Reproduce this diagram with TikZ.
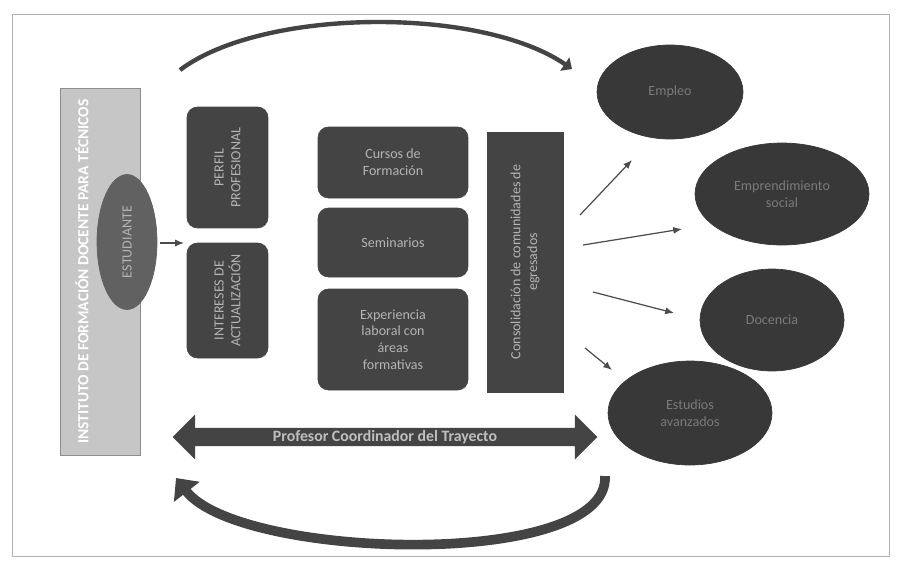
\documentclass[tikz,border=0pt]{standalone}
\usepackage{fontspec}
\setmainfont{Carlito}
\usetikzlibrary{positioning, calc, shapes.geometric, shapes.arrows, arrows.meta}
\definecolor{boxgray}{HTML}{444444}
\definecolor{ovalgray}{HTML}{383838}
\definecolor{bargray}{HTML}{C6C6C6}
\definecolor{barline}{HTML}{8C8C8C}
\definecolor{txtgray}{HTML}{B4B4B4}
\definecolor{ovaltxt}{HTML}{7A7A7A}

\begin{document}
\begin{tikzpicture}[x=0.02cm, y=-0.02cm,
	box/.style={draw=boxgray, fill=boxgray, rounded corners=6pt, text=txtgray, align=center, font=\footnotesize},
	outc/.style={ellipse, draw=ovalgray, fill=ovalgray, text=ovaltxt, align=center, font=\footnotesize, inner sep=0pt},
	tip/.style={-{Latex[length=5pt, width=4pt]}, black!70, line width=0.7pt}]
			\useasboundingbox (0,0) rectangle (901,562);
			\draw [gray!60] (12,14) rectangle (889,556);
			
			\node (n1) [draw=barline, fill=bargray, rotate=90, minimum width=7.34cm, minimum height=1.6cm] at (100,271.5) {};
			\node (t1) [rotate=90, text=white, font=\fontsize{8.8}{10}\selectfont\bfseries] at (82,271.5) {INSTITUTO DE FORMACIÓN DOCENTE PARA TÉCNICOS};
			\node (n2) [ellipse, draw=black!62, fill=black!62, rotate=90, minimum width=2.7cm, minimum height=1.2cm, text=txtgray, font=\footnotesize] at (127,242) {ESTUDIANTE};
			
			\node (n3) [box, rotate=90, minimum width=2.42cm, minimum height=1.62cm] at (227.5,167.5) {PERFIL\\PROFESIONAL};
			\node (n4) [box, rotate=90, minimum width=2.3cm, minimum height=1.62cm] at (227.5,300.5) {INTERESES DE\\ACTUALIZACIÓN};
			\draw [tip] ($(n2)+(33,1)$) -- ($(n2)+(57,1)$);
			
			\node (n5) [box, minimum width=3cm, minimum height=1.42cm] at (393,162.5) {Cursos de\\Formación};
			\node (n6) [box, minimum width=3cm, minimum height=1.38cm] at (393,242.5) {Seminarios};
			\node (n7) [box, minimum width=3cm, minimum height=2.02cm] at (393,339.5) {Experiencia\\laboral con\\áreas\\formativas};
			\node (n8) [box, sharp corners, rotate=90, minimum width=5.2cm, minimum height=1.52cm] at (525,262) {Consolidación de comunidades de\\egresados};
			
			\node (o1) [outc, minimum width=2.92cm, minimum height=1.88cm] at (670,92) {Empleo};
			\node (o2) [outc, minimum width=3.48cm, minimum height=2.04cm] at (782,194) {Emprendimiento\\social};
			\node (o3) [outc, minimum width=2.88cm, minimum height=2.04cm] at (772,320) {Docencia};
			\node (o4) [outc, minimum width=3.28cm, minimum height=2.08cm] at (690,413) {Estudios\\avanzados};
			\draw [tip] ($(n8)+(55,-47)$) -- ($(o1)+(-38,68)$);
			\draw [tip] ($(n8)+(58,-17)$) -- ($(o2)+(-100,35)$);
			\draw [tip] ($(n8)+(68,30)$) -- ($(o3)+(-98,-7)$);
			\draw [tip] ($(n8)+(60,86)$) -- ($(o4)+(-78,-43)$);
			
			\node (n9) [double arrow, fill=boxgray, minimum height=8.5cm, minimum width=0.9cm, double arrow head extend=0.26cm, inner ysep=1pt, text=black!25, font=\small\bfseries] at (385,437) {Profesor Coordinador del Trayecto};
			
			% ciclo
			\coordinate (a1) at (180,70);
			\coordinate (a2) at (572,69);
			\draw [boxgray, line width=2.5pt, -{Triangle[length=5pt, width=9pt]}] (a1) .. controls (262,8) and (480,6) .. (a2);
			\coordinate (a3) at (605,476);
			\coordinate (a4) at (176,478);
			\draw [boxgray, line width=5.5pt, -{Triangle[length=10pt, width=18pt]}] (a3) .. controls (610,570) and (240,560) .. (a4);
		\end{tikzpicture}
\end{document}
